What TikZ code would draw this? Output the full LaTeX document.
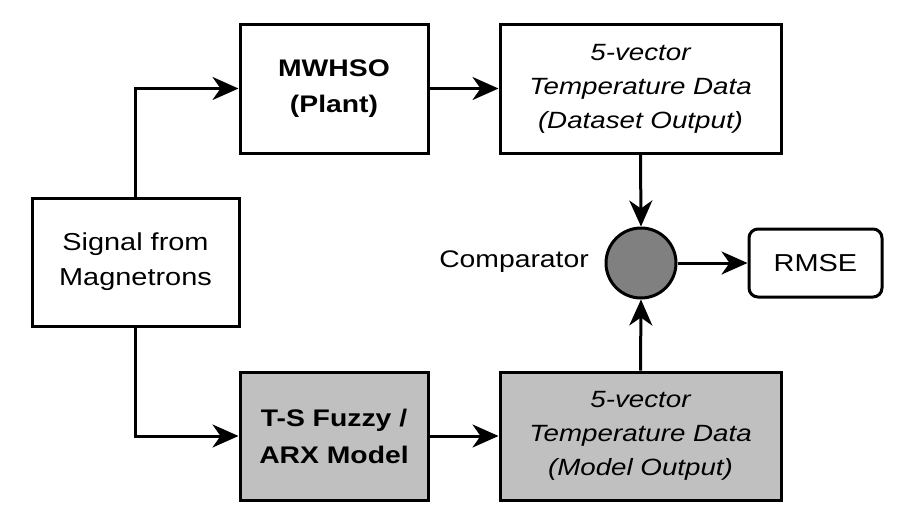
\documentclass[tikz,border=0pt]{standalone}
\usepackage{fontspec}
\setmainfont{Liberation Sans}[FakeStretch=1.18]
\usetikzlibrary{arrows.meta}
\definecolor{boxgray}{HTML}{C0C0C0}
\definecolor{circgray}{HTML}{808080}
\begin{document}
\begin{tikzpicture}[x=1pt,y=-1pt,
  box/.style={draw, line width=3pt, rectangle, align=center, inner sep=0pt,
    font=\fontsize{24.5}{35}\selectfont},
  conn/.style={line width=3pt, -{Stealth[length=26pt,width=23pt,inset=8pt]}}]
\useasboundingbox (0,0) rectangle (897,512);
\node[box, minimum width=207pt, minimum height=128pt] (sig) at (135.5,262) {Signal from\\Magnetrons};
\node[box, minimum width=188pt, minimum height=129pt, font=\fontsize{24}{36}\selectfont\bfseries] (plant) at (334,88.5) {MWHSO\\(Plant)};
\node[box, minimum width=281pt, minimum height=129pt, font=\fontsize{23.5}{34}\selectfont\itshape] (dset) at (640.5,88.5) {5-vector\\Temperature Data\\(Dataset Output)};
\node[draw, line width=3pt, circle, fill=circgray, minimum size=70pt, inner sep=0pt] (comp) at (641,263) {};
\node[anchor=east, inner sep=0pt, font=\fontsize{24}{34}\selectfont] (complabel) at (589,262) {Comparator};
\node[box, rounded corners=9pt, minimum width=133pt, minimum height=68pt] (rmse) at (815.5,263) {RMSE};
\node[box, fill=boxgray, minimum width=188pt, minimum height=128pt, font=\fontsize{24}{37}\selectfont\bfseries] (ts) at (334,436) {T-S Fuzzy /\\ARX Model};
\node[box, fill=boxgray, minimum width=281pt, minimum height=128pt, font=\fontsize{23.5}{34}\selectfont\itshape] (mout) at (640.5,436) {5-vector\\Temperature Data\\(Model Output)};
\draw[conn] (sig.north) |- (plant.west);
\draw[conn] (sig.south) |- (ts.west);
\draw[conn] (plant.east) -- (dset.west);
\draw[conn] (ts.east) -- (mout.west);
\draw[conn] (dset.south) -- (comp.north);
\draw[conn] (mout.north) -- (comp.south);
\draw[conn] (comp.east) -- (rmse.west);
\end{tikzpicture}
\end{document}
